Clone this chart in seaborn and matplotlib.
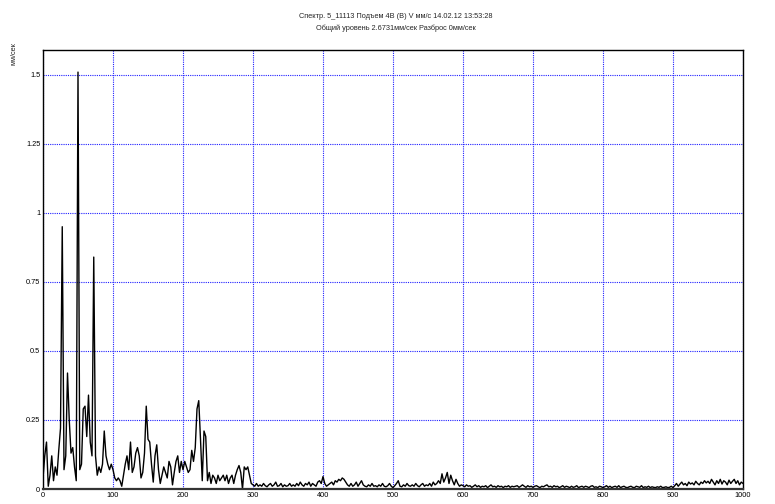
import numpy as np
import pandas as pd
import matplotlib
matplotlib.use("Agg")
import matplotlib.pyplot as plt
import seaborn as sns

title_line1 = "Спектр. 5_11113 Подъем 4В (В) V мм/с 14.02.12 13:53:28"
title_line2 = "Общий уровень 2.6731мм/сек Разброс 0мм/сек"
y_label = "мм/сек"

step_hz = 2.5

amp_0_100 = [
    0.04, 0.12, 0.17, 0.01, 0.05, 0.12, 0.03, 0.08, 0.05, 0.14,
    0.22, 0.95, 0.07, 0.12, 0.42, 0.25, 0.13, 0.15, 0.08, 0.03,
    1.51, 0.07, 0.09, 0.29, 0.30, 0.19, 0.34, 0.17, 0.12, 0.84,
    0.12, 0.05, 0.08, 0.06, 0.09, 0.21, 0.12, 0.09, 0.07, 0.09,
]
amp_100_200 = [
    0.07, 0.04, 0.03, 0.04, 0.03, 0.01, 0.05, 0.09, 0.12, 0.07,
    0.17, 0.06, 0.08, 0.13, 0.15, 0.12, 0.04, 0.06, 0.13, 0.30,
    0.18, 0.17, 0.09, 0.025, 0.12, 0.16, 0.07, 0.02, 0.05, 0.08,
    0.06, 0.04, 0.10, 0.08, 0.015, 0.06, 0.10, 0.12, 0.06, 0.10,
]
amp_200_300 = [
    0.07, 0.10, 0.08, 0.06, 0.07, 0.14, 0.10, 0.15, 0.29, 0.32,
    0.18, 0.03, 0.21, 0.19, 0.03, 0.06, 0.02, 0.05, 0.04, 0.02,
    0.05, 0.03, 0.04, 0.05, 0.03, 0.05, 0.02, 0.04, 0.05, 0.02,
    0.05, 0.07, 0.085, 0.06, 0.0, 0.08, 0.07, 0.08, 0.05, 0.02,
]
amp_300_400 = [
    0.015, 0.01, 0.02, 0.01, 0.015, 0.01, 0.02, 0.012, 0.008, 0.015,
    0.02, 0.01, 0.015, 0.025, 0.01, 0.012, 0.02, 0.008, 0.015, 0.01,
    0.012, 0.02, 0.01, 0.015, 0.01, 0.02, 0.012, 0.025, 0.015, 0.01,
    0.02, 0.015, 0.025, 0.01, 0.02, 0.015, 0.01, 0.025, 0.03, 0.02,
]
amp_400_500 = [
    0.045, 0.02, 0.01, 0.015, 0.02, 0.025, 0.015, 0.03, 0.025, 0.035,
    0.03, 0.04, 0.035, 0.025, 0.015, 0.01, 0.02, 0.01, 0.015, 0.025,
    0.01, 0.02, 0.03, 0.015, 0.01, 0.008, 0.015, 0.01, 0.02, 0.01,
    0.012, 0.008, 0.015, 0.01, 0.02, 0.01, 0.008, 0.012, 0.02, 0.01,
]
amp_500_600 = [
    0.005, 0.012, 0.02, 0.03, 0.01, 0.008, 0.015, 0.01, 0.02, 0.012,
    0.01, 0.015, 0.01, 0.02, 0.012, 0.008, 0.015, 0.02, 0.01, 0.015,
    0.012, 0.02, 0.01, 0.025, 0.015, 0.02, 0.03, 0.02, 0.055, 0.025,
    0.04, 0.06, 0.02, 0.05, 0.03, 0.015, 0.035, 0.02, 0.01, 0.015,
]
amp_600_700 = [
    0.012, 0.008, 0.015, 0.01, 0.012, 0.006, 0.01, 0.015, 0.008, 0.012,
    0.006, 0.01, 0.008, 0.012, 0.005, 0.01, 0.015, 0.008, 0.01, 0.006,
    0.012, 0.008, 0.01, 0.005, 0.01, 0.008, 0.012, 0.006, 0.01, 0.008,
    0.01, 0.012, 0.006, 0.01, 0.015, 0.01, 0.006, 0.012, 0.008, 0.01,
]
amp_700_800 = [
    0.006, 0.01, 0.012, 0.008, 0.005, 0.01, 0.008, 0.012, 0.015, 0.008,
    0.01, 0.006, 0.012, 0.008, 0.01, 0.005, 0.008, 0.012, 0.006, 0.01,
    0.008, 0.005, 0.01, 0.006, 0.008, 0.012, 0.005, 0.008, 0.01, 0.006,
    0.01, 0.008, 0.005, 0.01, 0.012, 0.006, 0.008, 0.005, 0.01, 0.008,
]
amp_800_900 = [
    0.005, 0.008, 0.012, 0.006, 0.01, 0.005, 0.008, 0.01, 0.006, 0.012,
    0.005, 0.008, 0.01, 0.006, 0.005, 0.008, 0.01, 0.006, 0.005, 0.01,
    0.008, 0.006, 0.012, 0.005, 0.008, 0.006, 0.01, 0.005, 0.008, 0.006,
    0.005, 0.008, 0.006, 0.01, 0.005, 0.006, 0.008, 0.005, 0.006, 0.01,
]
amp_900_1000 = [
    0.005, 0.012, 0.02, 0.01, 0.018, 0.025, 0.015, 0.02, 0.012, 0.025,
    0.018, 0.022, 0.015, 0.028, 0.02, 0.015, 0.025, 0.02, 0.03, 0.022,
    0.028, 0.02, 0.035, 0.025, 0.015, 0.03, 0.02, 0.035, 0.018, 0.03,
    0.025, 0.015, 0.032, 0.02, 0.028, 0.035, 0.02, 0.03, 0.015, 0.025,
    0.02,
]

amplitudes = (amp_0_100 + amp_100_200 + amp_200_300 + amp_300_400 + amp_400_500
              + amp_500_600 + amp_600_700 + amp_700_800 + amp_800_900 + amp_900_1000)
frequencies = [i * step_hz for i in range(len(amplitudes))]

x_ticks = [0, 100, 200, 300, 400, 500, 600, 700, 800, 900, 1000]
x_tick_labels = ["0", "100", "200", "300", "400", "500", "600", "700", "800", "900", "1000"]
y_ticks = [0, 0.25, 0.5, 0.75, 1, 1.25, 1.5]
y_tick_labels = ["0", "0.25", "0.5", "0.75", "1", "1.25", "1.5"]

df = pd.DataFrame({"freq": frequencies, "amp": amplitudes})

sns.set_theme(style="white")
plt.rcParams["font.family"] = ["Liberation Sans", "DejaVu Sans"]

fig = plt.figure(figsize=(7.75, 5.04), dpi=100)
ax = fig.add_axes([43 / 775, 1 - 489 / 504, 700 / 775, 439 / 504])

sns.lineplot(data=df, x="freq", y="amp", ax=ax, color="black", linewidth=1.0,
             estimator=None, sort=False)

ax.set_xlim(0, 1000)
ax.set_ylim(0, 1.59)
ax.set_xticks(x_ticks)
ax.set_xticklabels(x_tick_labels)
ax.set_yticks(y_ticks)
ax.set_yticklabels(y_tick_labels)
ax.tick_params(axis="both", length=0, labelsize=5.3, colors="black", pad=2)
ax.set_xlabel("")
ax.set_ylabel("")

ax.grid(True, color="#2020ff", linestyle=(0, (1, 1)), linewidth=0.8)
ax.set_axisbelow(True)

for side, sp in ax.spines.items():
    sp.set_visible(True)
    sp.set_color("black")
    sp.set_linewidth(1.0)
ax.spines["bottom"].set_linewidth(1.6)
ax.spines["bottom"].set_color("#333333")

fig.text(396 / 775, 1 - 17 / 504, title_line1, ha="center", va="center", fontsize=5.3)
fig.text(396 / 775, 1 - 28 / 504, title_line2, ha="center", va="center", fontsize=5.3)
fig.text(14 / 775, 1 - 54 / 504, y_label, ha="center", va="center", rotation=90, fontsize=5.3)

fig.savefig("out.png", dpi=100, facecolor="white")
